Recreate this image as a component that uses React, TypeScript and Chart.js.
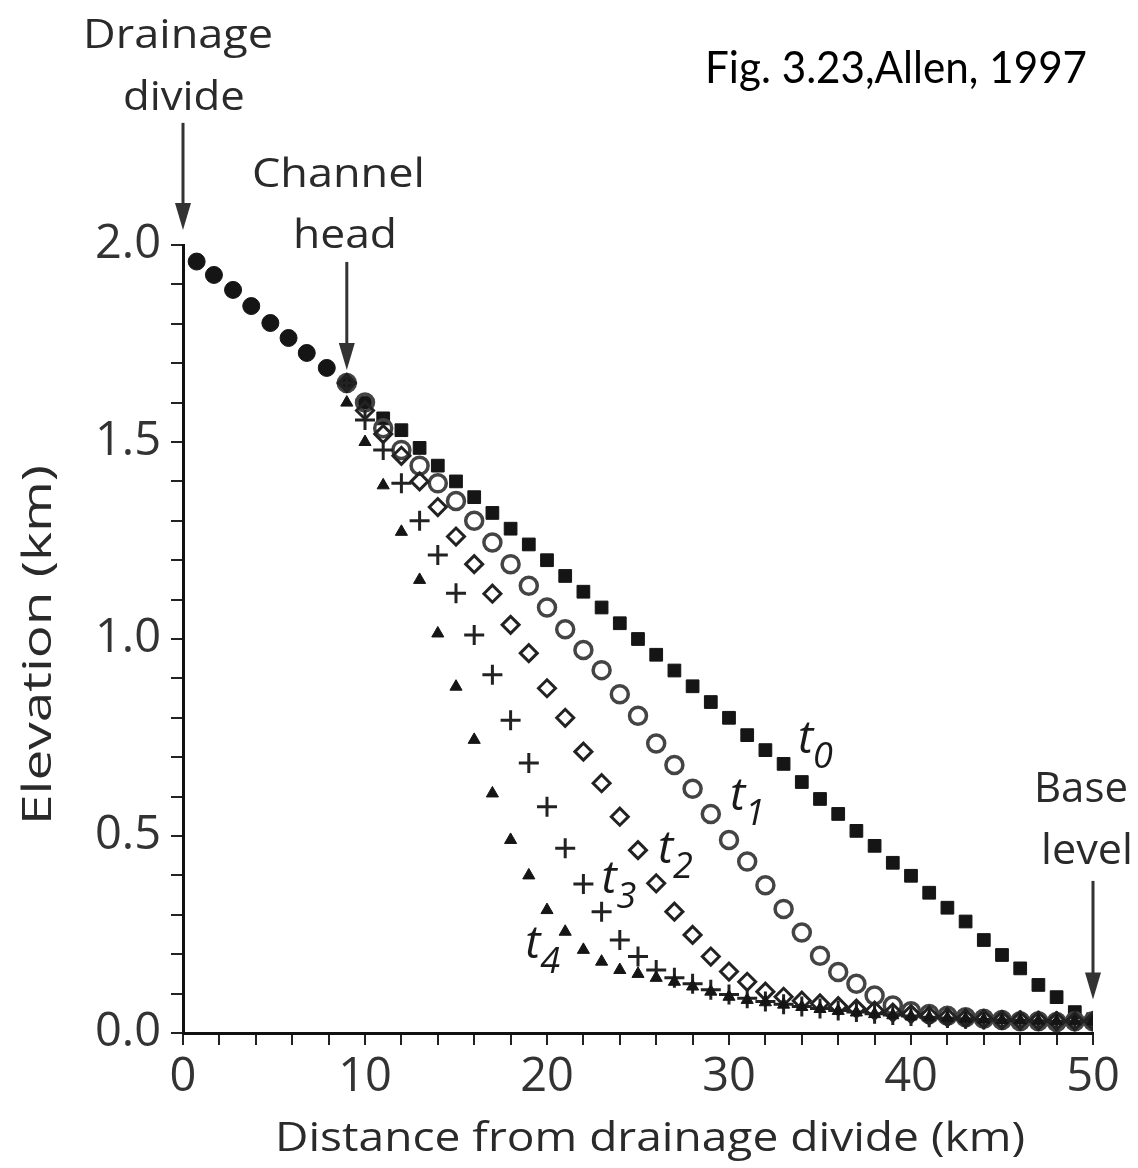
import React, { useEffect, useRef } from "react";
import { Chart, registerables } from "chart.js";

Chart.register(...registerables);

// ---------------- data ----------------
const hillslopeX = [0.75, 1.7, 2.75, 3.75, 4.8, 5.8, 6.8, 7.9];
const hillslopeY = [1.958, 1.924, 1.886, 1.845, 1.802, 1.764, 1.726, 1.688];

const channelX = [
  9, 10, 11, 12, 13, 14, 15, 16, 17, 18, 19, 20, 21, 22, 23, 24, 25, 26, 27, 28, 29,
  30, 31, 32, 33, 34, 35, 36, 37, 38, 39, 40, 41, 42, 43, 44, 45, 46, 47, 48, 49, 50,
];

const t0Y = [
  1.65, 1.6, 1.56, 1.53, 1.485, 1.44, 1.4, 1.36, 1.32, 1.28, 1.24, 1.2, 1.16, 1.12, 1.08,
  1.04, 1.0, 0.96, 0.92, 0.88, 0.84, 0.8, 0.756, 0.718, 0.683, 0.637, 0.594, 0.556, 0.513,
  0.475, 0.432, 0.399, 0.356, 0.318, 0.283, 0.236, 0.198, 0.164, 0.122, 0.091, 0.053, 0.035,
];
const t1Y = [
  1.65, 1.6, 1.535, 1.48, 1.44, 1.395, 1.35, 1.3, 1.245, 1.19, 1.135, 1.08, 1.025, 0.972,
  0.921, 0.86, 0.805, 0.735, 0.68, 0.62, 0.556, 0.49, 0.435, 0.375, 0.315, 0.255, 0.196,
  0.155, 0.125, 0.095, 0.07, 0.055, 0.048, 0.044, 0.04, 0.036, 0.033, 0.03, 0.03, 0.028,
  0.03, 0.03,
];
const t2Y = [
  1.65, 1.58, 1.52, 1.465, 1.4, 1.335, 1.26, 1.19, 1.115, 1.036, 0.964, 0.875, 0.8, 0.714,
  0.634, 0.549, 0.464, 0.38, 0.308, 0.249, 0.194, 0.156, 0.13, 0.105, 0.092, 0.082, 0.075,
  0.068, 0.062, 0.057, 0.052, 0.048, 0.044, 0.04, 0.037, 0.035, 0.033, 0.032, 0.031, 0.03,
  0.03, 0.03,
];
const t3Y = [
  1.65, 1.556, 1.48, 1.395, 1.3, 1.213, 1.116, 1.01, 0.909, 0.794, 0.685, 0.574, 0.469,
  0.378, 0.308, 0.236, 0.194, 0.16, 0.14, 0.125, 0.11, 0.098, 0.088, 0.08, 0.073, 0.067,
  0.062, 0.057, 0.053, 0.049, 0.046, 0.043, 0.04, 0.038, 0.036, 0.034, 0.033, 0.032, 0.031,
  0.03, 0.03, 0.03,
];
const t4Y = [
  1.6, 1.5, 1.39, 1.272, 1.15, 1.014, 0.879, 0.744, 0.608, 0.49, 0.4, 0.312, 0.257, 0.211,
  0.181, 0.16, 0.15, 0.14, 0.13, 0.118, 0.105, 0.092, 0.084, 0.078, 0.072, 0.066, 0.061,
  0.056, 0.052, 0.048, 0.045, 0.042, 0.04, 0.038, 0.036, 0.034, 0.033, 0.032, 0.031, 0.03,
  0.03, 0.03,
];

const xTickLabels = ["0", "10", "20", "30", "40", "50"];
const yTickLabels = ["0.0", "0.5", "1.0", "1.5", "2.0"];
const xTitle = "Distance from drainage divide (km)";
const yTitle = "Elevation (km)";

// annotations (data coordinates)
const arrowX = [0, 9, 50];
const arrowTop = [2.31, 1.957, 0.386];
const arrowTip = [2.038, 1.683, 0.085];

const noteText = ["Drainage", "divide", "Channel", "head", "Base", "level", "Fig. 3.23,Allen, 1997"];
const noteX = [-0.27, 0.05, 8.54, 8.9, 49.34, 49.67, 39.18];
const noteY = [2.5, 2.343, 2.147, 1.992, 0.586, 0.429, 2.411];

const tSub = ["0", "1", "2", "3", "4"];
const tLabelX = [33.79, 30.05, 26.1, 23.0, 18.8];
const tLabelY = [0.711, 0.566, 0.431, 0.355, 0.19];

// ---------------- styles ----------------
const W = 1138;
const H = 1168;
const noteStyle = [
  { font: "40px 'Open Sans'", width: 190, color: "#2a2a2a" },
  { font: "40px 'Open Sans'", width: 122, color: "#2a2a2a" },
  { font: "40px 'Open Sans'", width: 173, color: "#2a2a2a" },
  { font: "40px 'Open Sans'", width: 104, color: "#2a2a2a" },
  { font: "42px 'Open Sans'", width: 94, color: "#2a2a2a" },
  { font: "42px 'Open Sans'", width: 92, color: "#2a2a2a" },
  { font: "44px Lato", width: 382, color: "#000" },
];
const titleStyle = {
  font: "40px 'Open Sans'",
  color: "#2a2a2a",
  xWidth: 750,
  xCenter: 650,
  xMid: 1140,
  yLength: 360,
  yCenterX: 40,
};

const pts = (xs: number[], ys: number[]) => xs.map((x, i) => ({ x, y: ys[i] }));

function stretchedText(ctx: any, text: string, cx: number, cy: number, target: number, rot: number) {
  const m = ctx.measureText(text).width;
  ctx.save();
  ctx.translate(cx, cy);
  if (rot) ctx.rotate(rot);
  ctx.scale(target / m, 1);
  ctx.fillText(text, 0, 0);
  ctx.restore();
}

const notesPlugin = {
  id: "notes",
  afterDatasetsDraw(chart: any) {
    const { ctx, chartArea } = chart;
    const xs = chart.scales.x;
    const ys = chart.scales.y;
    ctx.save();
    // arrows
    ctx.strokeStyle = "#333";
    ctx.fillStyle = "#333";
    ctx.lineWidth = 3;
    for (let i = 0; i < arrowX.length; i++) {
      const px = xs.getPixelForValue(arrowX[i]);
      const p1 = ys.getPixelForValue(arrowTop[i]);
      const p2 = ys.getPixelForValue(arrowTip[i]);
      ctx.beginPath();
      ctx.moveTo(px, p1);
      ctx.lineTo(px, p2 - 20);
      ctx.stroke();
      ctx.beginPath();
      ctx.moveTo(px - 8, p2 - 27);
      ctx.lineTo(px + 8, p2 - 27);
      ctx.lineTo(px, p2);
      ctx.closePath();
      ctx.fill();
    }
    ctx.textAlign = "center";
    ctx.textBaseline = "alphabetic";
    // annotation texts
    for (let i = 0; i < noteText.length; i++) {
      const st = noteStyle[i];
      ctx.font = st.font;
      ctx.fillStyle = st.color;
      stretchedText(ctx, noteText[i], xs.getPixelForValue(noteX[i]), ys.getPixelForValue(noteY[i]), st.width, 0);
    }
    // axis titles
    ctx.font = titleStyle.font;
    ctx.fillStyle = titleStyle.color;
    ctx.textBaseline = "middle";
    stretchedText(ctx, xTitle, titleStyle.xCenter, titleStyle.xMid, titleStyle.xWidth, 0);
    stretchedText(ctx, yTitle, titleStyle.yCenterX, (chartArea.top + chartArea.bottom) / 2 + 6, titleStyle.yLength, -Math.PI / 2);
    // t labels
    ctx.fillStyle = "#1a1a1a";
    ctx.textAlign = "left";
    ctx.textBaseline = "alphabetic";
    for (let i = 0; i < tSub.length; i++) {
      const px = xs.getPixelForValue(tLabelX[i]);
      const py = ys.getPixelForValue(tLabelY[i]);
      ctx.font = "italic 46px 'Open Sans'";
      ctx.fillText("t", px, py);
      ctx.font = "italic 36px 'Open Sans'";
      ctx.fillText(tSub[i], px + 15, py + 15);
    }
    ctx.restore();
  },
};

export default function App() {
  const ref = useRef<HTMLCanvasElement | null>(null);

  useEffect(() => {
    if (!ref.current) return;
    const chart = new Chart(ref.current, {
      type: "scatter",
      data: {
        datasets: [
          {
            label: "hillslope",
            data: pts(hillslopeX, hillslopeY),
            pointStyle: "circle",
            pointRadius: 8.5,
            backgroundColor: "#151515",
            borderColor: "#151515",
            borderWidth: 1,
          },
          {
            label: "t4",
            data: pts(channelX, t4Y),
            pointStyle: "triangle",
            pointRadius: 7,
            backgroundColor: "#151515",
            borderColor: "#151515",
            borderWidth: 1,
          },
          {
            label: "t3",
            data: pts(channelX, t3Y),
            pointStyle: "cross",
            pointRadius: 10,
            backgroundColor: "rgba(0,0,0,0)",
            borderColor: "#222",
            borderWidth: 3,
          },
          {
            label: "t2",
            data: pts(channelX, t2Y),
            pointStyle: "rectRot",
            pointRadius: 8.5,
            backgroundColor: "rgba(0,0,0,0)",
            borderColor: "#222",
            borderWidth: 3,
          },
          {
            label: "t1",
            data: pts(channelX, t1Y),
            pointStyle: "circle",
            pointRadius: 8.5,
            backgroundColor: "rgba(0,0,0,0)",
            borderColor: "#444",
            borderWidth: 3.5,
          },
          {
            label: "t0",
            data: pts(channelX, t0Y),
            pointStyle: "rect",
            pointRadius: 9,
            backgroundColor: "#151515",
            borderColor: "#151515",
            borderWidth: 1,
          },
        ],
      },
      options: {
        responsive: false,
        animation: false,
        layout: { padding: { left: 0, top: 245, right: 45, bottom: 0 } },
        plugins: {
          legend: { display: false },
          tooltip: { enabled: false },
        },
        scales: {
          x: {
            type: "linear",
            min: 0,
            max: 50,
            afterFit: (s: any) => {
              s.height = 135;
            },
            ticks: {
              stepSize: 2,
              autoSkip: false,
              maxRotation: 0,
              padding: 4,
              color: "#333",
              font: { family: "'Open Sans'", size: 47 },
              callback: (v: any) => (xTickLabels.includes(String(v)) ? String(v) : ""),
            },
            grid: {
              display: true,
              drawOnChartArea: false,
              drawTicks: true,
              tickLength: 12,
              color: "#222",
              lineWidth: 2,
            },
            border: { display: true, color: "#111", width: 3 },
            title: { display: false, text: xTitle },
          },
          y: {
            type: "linear",
            min: 0,
            max: 2,
            afterFit: (s: any) => {
              s.width = 183;
            },
            ticks: {
              stepSize: 0.1,
              autoSkip: false,
              padding: 10,
              color: "#333",
              font: { family: "'Open Sans'", size: 47 },
              callback: (v: any) => {
                const s = (Math.round(Number(v) * 10) / 10).toFixed(1);
                return yTickLabels.includes(s) ? s : "";
              },
            },
            grid: {
              display: true,
              drawOnChartArea: false,
              drawTicks: true,
              tickLength: 12,
              color: "#222",
              lineWidth: 2,
            },
            border: { display: true, color: "#111", width: 3 },
            title: { display: false, text: yTitle },
          },
        },
      },
      plugins: [notesPlugin],
    } as any);
    return () => chart.destroy();
  }, []);

  return (
    <div style={{ position: "fixed", left: 0, top: 0, width: W, height: H, background: "#fff" }}>
      <canvas ref={ref} width={W} height={H} style={{ width: W, height: H, display: "block" }} />
    </div>
  );
}
